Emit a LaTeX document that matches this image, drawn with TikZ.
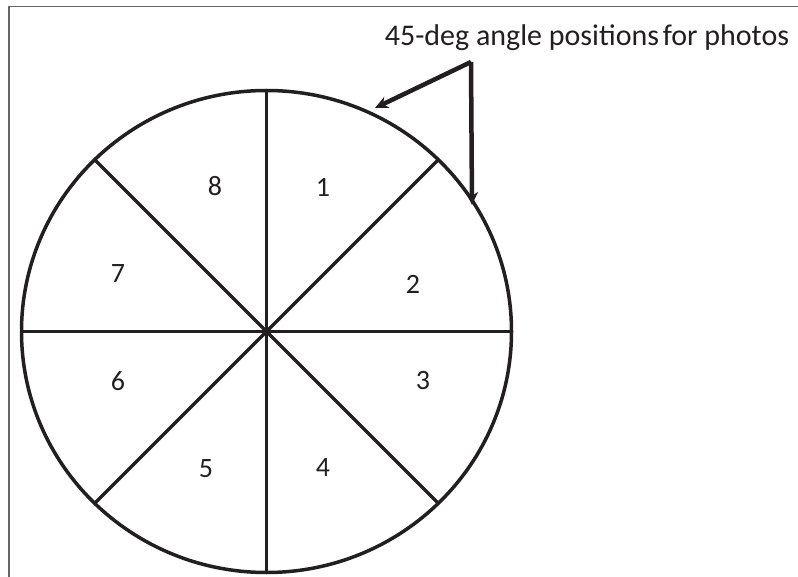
\documentclass[tikz,border=0pt]{standalone}
\usepackage{fontspec}
\setmainfont{Carlito}
\usetikzlibrary{shapes.geometric,arrows.meta}
\definecolor{ink}{RGB}{35,31,32}
\tikzset{
  wheelline/.style={draw=ink, line width=3.5pt},
  sector/.style={font=\fontsize{28}{30}\selectfont, text=ink, inner sep=0pt},
  captiontext/.style={font=\fontsize{30}{32}\selectfont, text=ink, inner sep=0pt},
  pointer/.style={draw=ink, line width=4.5pt, -{Stealth[length=13pt,width=12pt,inset=4pt]}},
  frameline/.style={draw=black!60, line width=1.5pt}
}
\begin{document}
\begin{tikzpicture}[x=1pt,y=-1pt]
\useasboundingbox (0,0) rectangle (798,577);
% frame (top and left edges)
\draw[frameline] (9,577) -- (9,6.5) -- (798,6.5);
% wheel
\node[wheelline, ellipse, minimum width=490pt, minimum height=482pt, inner sep=0pt, outer sep=0pt] (wheel) at (266.5,331.5) {};
\draw[wheelline] (wheel.90) -- (wheel.270);
\draw[wheelline] (wheel.0) -- (wheel.180);
\draw[wheelline] (wheel.45) -- (wheel.225);
\draw[wheelline] (wheel.135) -- (wheel.315);
% sector numbers
\node[sector] (n1) at (323,187) {1};
\node[sector] (n2) at (413,284) {2};
\node[sector] (n3) at (423,381) {3};
\node[sector] (n4) at (323,468) {4};
\node[sector] (n5) at (206,469) {5};
\node[sector] (n6) at (118,381) {6};
\node[sector] (n7) at (118,274) {7};
\node[sector] (n8) at (215,186) {8};
% caption and pointers
\node[captiontext, anchor=base] (caption) at (587,46) {45-deg angle positions\hspace{-3pt} for photos};
\coordinate (corner) at (471,62);
\coordinate (tipA) at (375,108);
\coordinate (tipB) at (472,205);
\draw[pointer] (corner) -- (tipA);
\draw[pointer] (corner) -- (tipB);
\end{tikzpicture}
\end{document}
